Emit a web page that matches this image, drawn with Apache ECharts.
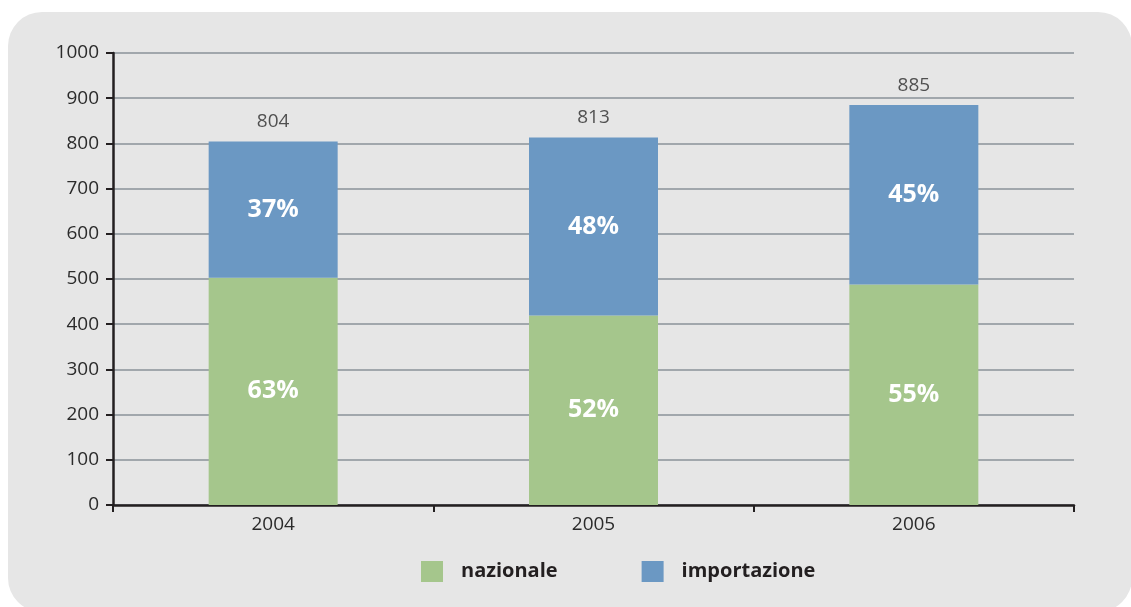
<!DOCTYPE html>
<html>
<head>
<meta charset="utf-8">
<script src="https://cdn.jsdelivr.net/npm/echarts@6/dist/echarts.min.js"></script>
<style>
  html, body { margin: 0; padding: 0; background: #fff; }
  #chart { width: 1131px; height: 607px; }
</style>
</head>
<body>
<div id="chart"></div>
<script>
var years = ['2004', '2005', '2006'];
var nazionale = [503, 419, 488];
var importazione = [301, 394, 397];
var totals = [804, 813, 885];
var pctNazionale = ['63%', '52%', '55%'];
var pctImportazione = ['37%', '48%', '45%'];
var yTicks = [0, 100, 200, 300, 400, 500, 600, 700, 800, 900, 1000];

var font = '"Open Sans", "DejaVu Sans", sans-serif';
var chart = echarts.init(document.getElementById('chart'));

var pctLabel = function (arr) {
  return {
    show: true,
    position: 'inside',
    color: '#fff',
    fontFamily: font,
    fontWeight: 'bold',
    fontSize: 25,
    formatter: function (p) { return arr[p.dataIndex]; }
  };
};

chart.setOption({
  animation: false,
  graphic: [{
    type: 'rect',
    z: -10,
    shape: {x: 8, y: 12, width: 1124, height: 600, r: 34},
    style: {fill: '#e6e6e6'}
  }],
  grid: {left: 113, right: 57, top: 53, bottom: 102},
  legend: {
    bottom: 20,
    left: 416,
    itemWidth: 22,
    itemHeight: 21,
    itemGap: 84,
    icon: 'rect',
    data: ['nazionale', 'importazione'],
    textStyle: {
      fontFamily: font,
      fontWeight: 'bold',
      fontSize: 20,
      color: '#231f20',
      padding: [0, 0, 0, 13]
    }
  },
  xAxis: {
    type: 'category',
    data: years,
    axisLine: {lineStyle: {color: '#231f20', width: 2.5}},
    axisTick: {show: true, length: 7, lineStyle: {color: '#231f20', width: 2}},
    axisLabel: {color: '#2b2b2b', fontFamily: font, fontSize: 19, margin: 10}
  },
  yAxis: {
    type: 'value',
    min: yTicks[0],
    max: yTicks[yTicks.length - 1],
    interval: 100,
    axisLine: {show: true, lineStyle: {color: '#231f20', width: 2.5}},
    axisTick: {show: true, length: 7, lineStyle: {color: '#231f20', width: 2}},
    axisLabel: {
      color: '#2b2b2b', fontFamily: font, fontSize: 19, margin: 14,
      formatter: function (v) { return String(v); }
    },
    splitLine: {lineStyle: {color: '#8a9298', width: 1.5}}
  },
  series: [
    {
      name: 'nazionale',
      type: 'bar',
      stack: 'tot',
      barWidth: 129,
      data: nazionale,
      itemStyle: {color: '#a5c68c'},
      label: pctLabel(pctNazionale)
    },
    {
      name: 'importazione',
      type: 'bar',
      stack: 'tot',
      barWidth: 129,
      data: importazione,
      itemStyle: {color: '#6b98c3'},
      label: pctLabel(pctImportazione)
    },
    {
      name: 'totale',
      type: 'scatter',
      symbolSize: 0,
      data: totals,
      silent: true,
      label: {
        show: true,
        position: 'top',
        distance: 10,
        color: '#2b2b2b',
        fontFamily: font,
        fontSize: 19
      }
    }
  ]
});
</script>
</body>
</html>
